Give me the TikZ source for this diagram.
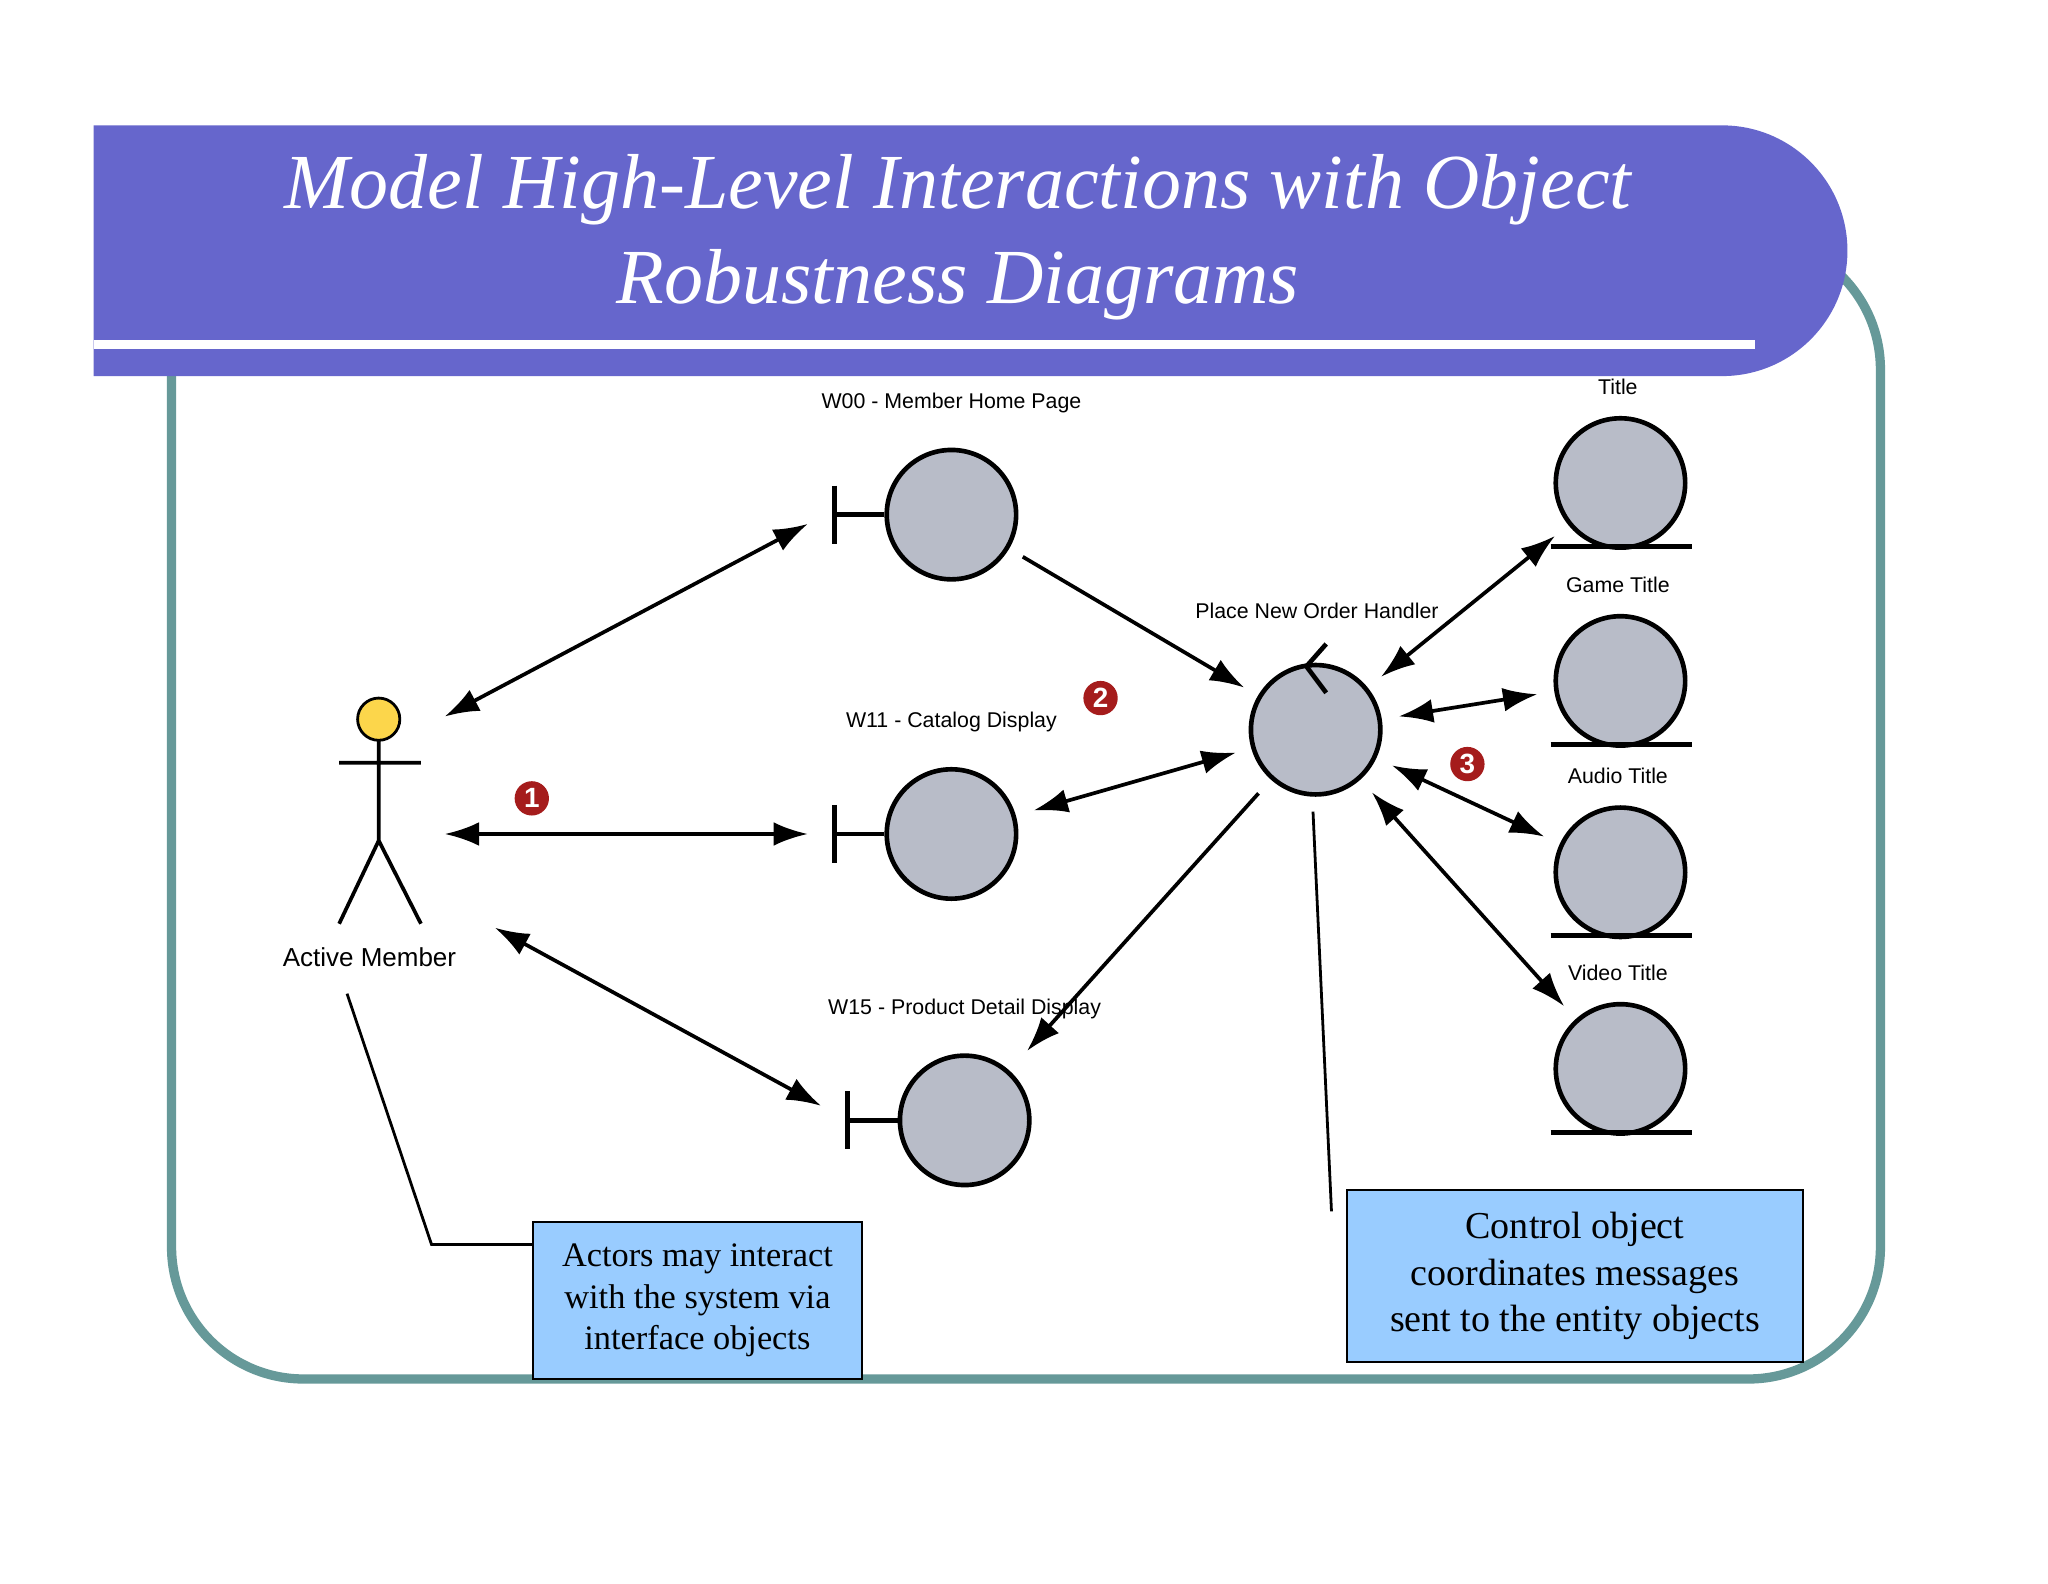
\documentclass[tikz,border=0pt]{standalone}
\usepackage{fontspec}
\setmainfont{Liberation Serif}
\setsansfont{Liberation Sans}
\usetikzlibrary{arrows.meta,positioning}
\definecolor{banner}{HTML}{6666CC}
\definecolor{frame}{HTML}{669999}
\definecolor{obj}{HTML}{B8BCC8}
\definecolor{note}{HTML}{99CCFF}
\definecolor{badge}{HTML}{A51C1C}
\tikzset{
  ball/.style={circle,draw,line width=1pt,fill=obj,minimum size=0.98cm,inner sep=0pt},
  lbl/.style={font=\sffamily\fontsize{4.6}{5.5}\selectfont},
  num/.style={circle,fill=badge,text=white,inner sep=0pt,minimum size=0.26cm,font=\sffamily\bfseries\fontsize{6}{6}\selectfont},
  msg/.style={line width=0.8pt,-{Latex[length=0.26cm,width=0.18cm]}},
  msgb/.style={msg,{Latex[length=0.26cm,width=0.18cm]}-{Latex[length=0.26cm,width=0.18cm]}},
  memo/.style={draw,fill=note,align=center,font=\fontsize{7.4}{9}\selectfont,inner sep=0pt}
}
\begin{document}
\begin{tikzpicture}[x=0.01cm,y=-0.01cm]
\useasboundingbox (0,0) rectangle (1552,1200);
\fill[white] (0,0) rectangle (1552,1200);
% frame and banner
\draw[frame,line width=2pt,rounded corners=1cm] (130,180) rectangle (1425,1045);
\fill[banner] (71,95) -- (1305,95) arc (-90:90:95) -- (71,285) -- cycle;
\draw[white,line width=1.8pt] (71,261) -- (1330,261);
\node[text=white,font=\itshape\fontsize{16.8}{20.5}\selectfont,align=center] (title) at (726,180)
  {Model High-Level Interactions with Object\\Robustness Diagrams};
% actor
\fill[fill=yellow!60!orange!70,draw,line width=0.6pt] (287,545) circle (16);
\draw[line width=0.8pt] (287,561) -- (287,637) (257,578) -- (319,578)
  (257,700) -- (287,637) -- (319,700);
\node[lbl,font=\sffamily\fontsize{5.6}{7}\selectfont] (actor) at (280,725) {Active Member};
\coordinate (a1) at (337,543);
\coordinate (a2) at (337,632);
\coordinate (a3) at (375,703);
% boundary objects
\foreach \n/\x/\y/\t in {w00/721/390/W00 - Member Home Page,w11/721/632/W11 - Catalog Display,w15/731/849/W15 - Product Detail Display}{
  \node[ball] (\n) at (\x,\y) {};
  \draw[line width=1pt] (\n.west) -- ++(-38,0) coordinate (\n b) ++(0,-22) -- ++(0,44);
  \node[lbl,above=0.14cm of \n] {\t};
}
% control object
\node[ball] (ctl) at (997,553) {};
\draw[line width=1pt] (1005,488) -- (990,505) -- (1005,525);
\node[lbl] at (998,463) {Place New Order Handler};
% entity objects
\foreach \n/\y/\t in {e1/366/Title,e2/516/Game Title,e3/661/Audio Title,e4/810/Video Title}{
  \node[ball] (\n) at (1228,\y) {};
  \draw[line width=1pt] (1175,\y+48) -- (1282,\y+48);
  \node[lbl] at (1226,\y-73) {\t};
}
% messages
\draw[msgb] (a1) -- ([shift={(-20,7)}]w00b);
\draw[msgb] (a2) -- ([shift={(-20,0)}]w11b);
\draw[msgb] (a3) -- ([shift={(-20,-11)}]w15b);
\draw[msg,shorten <=0.12cm,shorten >=0.12cm] (w00) -- (ctl);
\draw[msgb,shorten <=0.12cm,shorten >=0.14cm] (ctl) -- (w11);
\draw[msg,shorten <=0.14cm,shorten >=0.2cm] (ctl) -- (w15);
\foreach \e in {e1,e2,e3,e4}
  \draw[msgb,shorten <=0.13cm,shorten >=0.13cm] (ctl) -- (\e);
% badges
\node[num] at (403,605) {1};
\node[num] at (834,529) {2};
\node[num] at (1112,579) {3};
% notes
\node[memo,minimum width=2.49cm,minimum height=1.19cm] (n1) at (528.5,985.5)
  {Actors may interact\\with the system via\\interface objects};
\node[memo,minimum width=3.45cm,minimum height=1.3cm,font=\fontsize{8.2}{10}\selectfont] (n2) at (1193.5,967)
  {Control object\\coordinates messages\\sent to the entity objects};
\draw[line width=0.6pt] (263,753) -- (327,943) -- (n1.west |- 0,943);
\draw[line width=0.6pt] (995,615) -- (1009,918);
\end{tikzpicture}
\end{document}
